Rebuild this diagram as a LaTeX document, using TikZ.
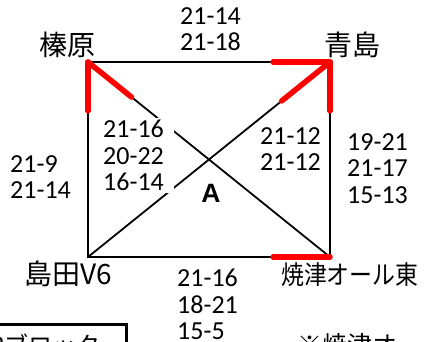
\documentclass[tikz,border=0pt]{standalone}
\usepackage{fontspec}
\setmainfont{Carlito}
\setsansfont{Liberation Sans}
\newfontfamily\jpfont{Noto Sans CJK JP}
\newfontfamily\jpstretto[FakeStretch=0.88]{Noto Sans CJK JP}
\usetikzlibrary{calc}

\begin{document}
\begin{tikzpicture}[x=1pt,y=-1pt,
    punti/.style={anchor=north west,align=left,inner sep=0pt,
      font=\fontsize{26}{26.5}\selectfont},
    squadra/.style={inner sep=0pt,font=\jpfont\fontsize{28}{30}\selectfont},
    vinto/.style={draw=bloccoRosso,line width=5.5pt,line cap=round}]
  \definecolor{bloccoRosso}{HTML}{FF0000}
  \useasboundingbox (0,0) rectangle (424,341);
  \clip (0,0) rectangle (424,341);

  % Angoli del girone A.
  \coordinate (hb) at (88,62);
  \coordinate (ao) at (330,62);
  \coordinate (sh) at (88,257);
  \coordinate (ya) at (330,257);
  \draw[line width=2.6pt] (hb) -- (ao) -- (ya) -- (sh) -- cycle;
  \draw[line width=1.8pt] (hb) -- (ya) (sh) -- (ao);

  % Tratti rossi: vittorie partendo dall'angolo del vincitore.
  \foreach \da/\verso/\quota in {hb/sh/.25,hb/ya/.18,ao/hb/.235,
                                 ao/sh/.2,ao/ya/.25,ya/sh/.235}{
    \draw[vinto] (\da) -- ($(\da)!\quota!(\verso)$);
  }

  \node[squadra] (haibara) at (67.5,44.5) {榛原};
  \node[squadra] (aoshima) at (352,44.5) {青島};
  \node[squadra] (shimada) at (68.5,274) {島田V6};
  \node[squadra,anchor=west,font=\jpstretto\fontsize{26}{28}\selectfont] (yaizu)
    at (281,275) {焼津オール東};

  % Punteggi dei set.
  \node[punti] (sHbAo) at (180,7) {21-14\\21-18};
  \node[punti] (sHbSh) at (10,155) {21-9\\21-14};
  \node[punti] (sAoYa) at (347,133) {19-21\\21-17\\15-13};
  \node[punti] (sShYa) at (177,269) {21-16\\18-21\\15-5};
  \node[punti] (sAoSh) at (260,127) {21-12\\21-12};
  \node[punti,fill=white,inner xsep=10pt,inner ysep=2pt] (sHbYa) at (93,118)
    {21-16\\20-22\\16-14};
  \node[inner sep=0pt,font=\sffamily\bfseries\fontsize{26.5}{28}\selectfont] (girone)
    at (211,193.5) {A};

  % Inizio del blocco successivo, tagliato dal bordo.
  \node[draw,line width=3pt,anchor=north east,inner xsep=25pt,inner ysep=10pt,
    font=\jpfont\fontsize{24}{26}\selectfont] (blocco) at (127.5,322.5) {Bブロック};
  \node[anchor=base west,inner sep=0pt,font=\jpfont\fontsize{25}{27}\selectfont]
    (nota) at (297,354) {※焼津オ};
\end{tikzpicture}
\end{document}
